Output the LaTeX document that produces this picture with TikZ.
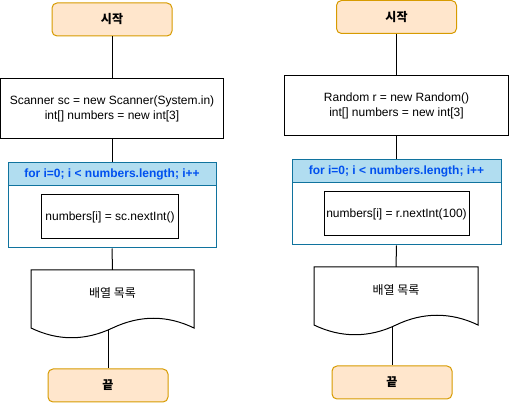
\documentclass[tikz,border=0pt]{standalone}
\usepackage{fontspec}
\setmainfont{Liberation Sans}
\newfontfamily\kr{Noto Sans CJK KR}
\definecolor{oo}{RGB}{255, 230, 204}
\definecolor{od}{RGB}{215, 155, 0}
\definecolor{bb}{RGB}{177, 221, 240}
\definecolor{bd}{RGB}{16, 115, 158}
\definecolor{bt}{RGB}{0, 80, 239}

\begin{document}
\begin{tikzpicture}
			[x=1pt,y=-1pt,every node/.style={inner sep=0pt,font=\fontsize{12}{15}\selectfont},
			term/.style={rectangle, rounded corners=5pt, fill=oo, draw=od, line width=1pt, minimum width=120pt, minimum height=33pt, font=\fontsize{12}{15}\selectfont\kr\bfseries},
			stepbox/.style={rectangle, draw=black, line width=1pt, align=center},
			loopbox/.style={rectangle, draw=bd, line width=1pt, minimum height=85pt},
			loophead/.style={rectangle, fill=bb, draw=bd, line width=1pt, minimum height=23pt, text=bt, font=\fontsize{12}{15}\selectfont\bfseries},
			doctext/.style={minimum height=46pt, font=\fontsize{12}{15}\selectfont\kr},
			docline/.style={line width=1pt, color=black},
			link/.style={line width=1pt, color=black}]
			\useasboundingbox (0,0) rectangle (509,403);
			% Scanner
			\node (1) [term] at (112,19.5) {시작};
			\node (2) [stepbox, minimum width=223pt, minimum height=60pt] at (112,109) {Scanner sc = new Scanner(System.in)\\int[] numbers = new int[3]};
			\node (3) [loopbox, minimum width=208pt] at (112,205.5) {};
			\node (3h) [loophead, minimum width=208pt, anchor=north] at (3.north) {for i=0; i < numbers.length; i++};
			\node (4) [stepbox, minimum width=137pt, minimum height=44pt] at (110,217) {numbers[i] = sc.nextInt()};
			\node (5) [doctext, minimum width=163pt] at (112.5,293) {배열 목록};
			\draw [docline] (31,270) -- (194,270) -- (194,328) .. controls (167,315) and (140,315) .. (112.5,328) .. controls (85,341) and (58,341) .. (31,328) -- cycle;
			\coordinate (5b) at (108,330.5);
			\node (6) [term] at (108,385.5) {끝};
			\draw [link] (1) to (2);
			\draw [link] (2) to (3h);
			\draw [link] (3.south) to (5.north);
			\draw [link] (5b) to (6);
			% Random
			\node (7) [term] at (396.5,17) {시작};
			\node (8) [stepbox, minimum width=224pt, minimum height=60pt] at (396.5,106) {Random r = new Random()\\int[] numbers = new int[3]};
			\node (9) [loopbox, minimum width=209pt] at (396.5,202.5) {};
			\node (9h) [loophead, minimum width=209pt, anchor=north] at (9.north) {for i=0; i < numbers.length; i++};
			\node (10) [stepbox, minimum width=145pt, minimum height=44pt] at (396.5,214) {numbers[i] = r.nextInt(100)};
			\node (11) [doctext, minimum width=164pt] at (396,290) {배열 목록};
			\draw [docline] (314,267) -- (478,267) -- (478,325) .. controls (451,312) and (423,312) .. (396,325) .. controls (369,338) and (341,338) .. (314,325) -- cycle;
			\coordinate (11b) at (392,327.5);
			\node (12) [term] at (392,382.5) {끝};
			\draw [link] (7) to (8);
			\draw [link] (8) to (9h);
			\draw [link] (9.south) to (11.north);
			\draw [link] (11b) to (12);
		\end{tikzpicture}
\end{document}
